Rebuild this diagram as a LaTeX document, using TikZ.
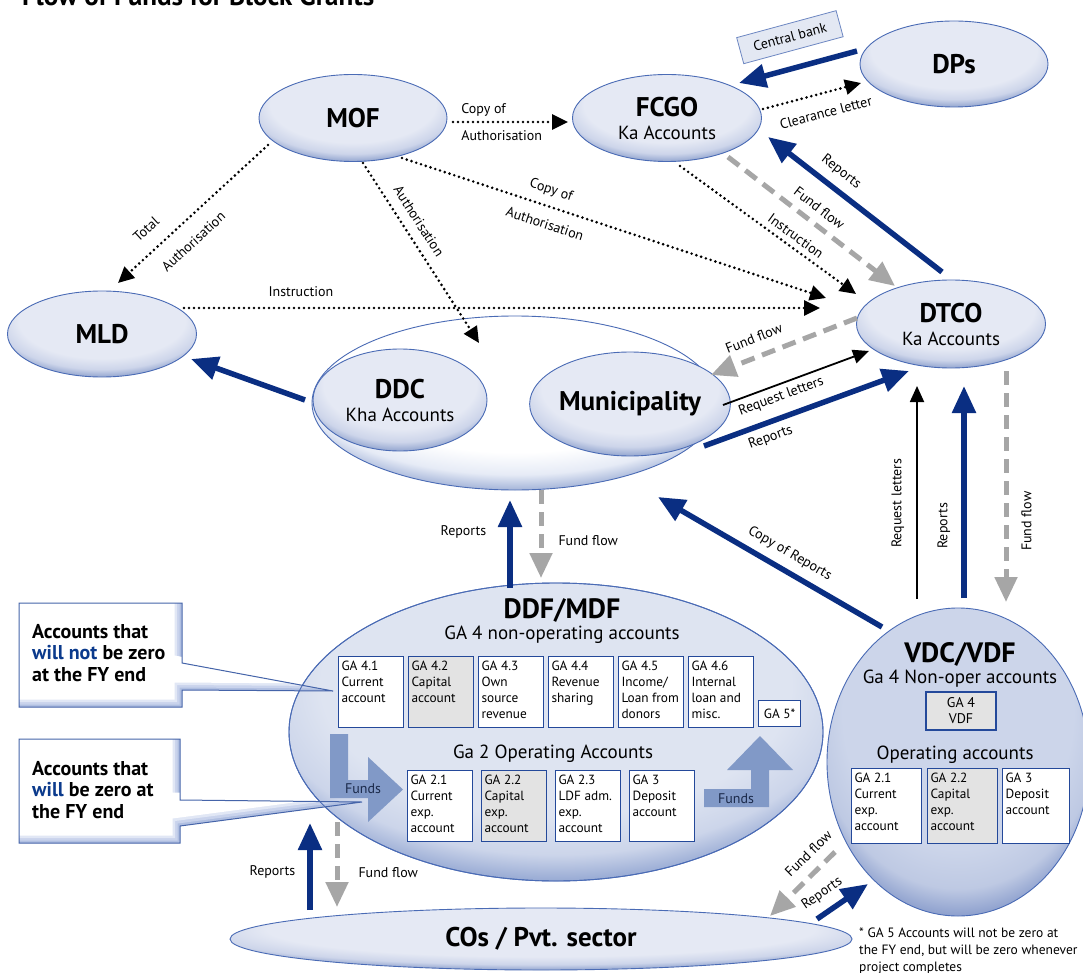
\documentclass[tikz,border=0pt]{standalone}
\usepackage{fontspec}
\setmainfont{PT Sans}
\usetikzlibrary{arrows.meta,calc,shapes.geometric}
\definecolor{navy}{HTML}{0A2E82}
\definecolor{agrey}{HTML}{A6A6A6}
\definecolor{eline}{HTML}{4A6BB5}
\definecolor{bline}{HTML}{24499A}
\definecolor{fundc}{HTML}{8199C7}
\definecolor{fundt}{HTML}{1B2A4A}
\definecolor{calblue}{HTML}{0B3A8C}
\definecolor{boxgrey}{HTML}{E3E3E3}
\definecolor{cbfill}{HTML}{E3E8F3}
\definecolor{cbline}{HTML}{6D87C2}
\definecolor{aIn}{HTML}{E5E9F4}
\definecolor{aMid}{HTML}{CDD5EA}
\definecolor{aOut}{HTML}{8A9ECB}
\definecolor{wIn}{HTML}{FFFFFF}
\definecolor{wMid}{HTML}{E6EBF6}
\definecolor{wOut}{HTML}{9AACD4}
\definecolor{dIn}{HTML}{DEE4F1}
\definecolor{dMid}{HTML}{CCD5EA}
\definecolor{dOut}{HTML}{8FA3D0}
\definecolor{vIn}{HTML}{CCD5EA}
\definecolor{vMid}{HTML}{BEC9E3}
\definecolor{vOut}{HTML}{8599CA}
\definecolor{cs1}{HTML}{B0BFE1}
\definecolor{cs2}{HTML}{C9D3EC}
\definecolor{cs3}{HTML}{E1E7F5}
\pgfdeclareradialshading{shA}{\pgfpoint{0bp}{14bp}}{color(0bp)=(aIn); color(22bp)=(aIn); color(27bp)=(aMid); color(31bp)=(aOut); color(50bp)=(aOut)}
\pgfdeclareradialshading{shW}{\pgfpoint{0bp}{14bp}}{color(0bp)=(wIn); color(22bp)=(wIn); color(27bp)=(wMid); color(31bp)=(wOut); color(50bp)=(wOut)}
\pgfdeclareradialshading{shD}{\pgfpoint{0bp}{14bp}}{color(0bp)=(dIn); color(22bp)=(dIn); color(27bp)=(dMid); color(31bp)=(dOut); color(50bp)=(dOut)}
\pgfdeclareradialshading{shV}{\pgfpoint{0bp}{14bp}}{color(0bp)=(vIn); color(22bp)=(vIn); color(27bp)=(vMid); color(31bp)=(vOut); color(50bp)=(vOut)}
\newcommand{\accbx}[3]{\parbox[c][#2][t]{#1}{\raggedright #3}}
\newcommand{\calloutA}{(19,603) -- (182,603) -- (182,663) -- (333,691) -- (182,690) -- (182,707) -- (19,707) -- cycle}
\newcommand{\calloutB}{(19,739) -- (180,739) -- (180,800) -- (362,802) -- (180,826) -- (180,843) -- (19,843) -- cycle}
\begin{document}
\begin{tikzpicture}[x=1pt,y=-1pt,
  font=\fontsize{14}{16}\selectfont,
  ell/.style={ellipse, draw=eline, line width=0.9pt, inner sep=0pt, align=center, shade},
  acc/.style={draw=bline, line width=1.1pt, fill=white, inner xsep=3pt, inner ysep=4pt, anchor=north west, font=\fontsize{13.3}{16}\selectfont},
  lbl/.style={inner sep=1pt, font=\fontsize{14}{16}\selectfont},
  navyarr/.style={draw=navy, line width=5.5pt, -{Triangle[length=27pt,width=23pt]}},
  greyarr/.style={draw=agrey, line width=5pt, dash pattern=on 14pt off 8pt, -{Triangle[length=25pt,width=22pt]}},
  dotarr/.style={draw=black, line width=2.9pt, line cap=round, dash pattern=on 0pt off 5pt, -{Triangle[length=16pt,width=15pt]}},
  blkarr/.style={draw=black, line width=1.8pt, -{Triangle[length=16pt,width=14pt]}},
  cbox/.style={draw=cbline, fill=cbfill, line width=0.8pt, minimum width=103pt, minimum height=27pt, inner sep=2pt},
  big/.style={font=\fontsize{27}{27}\bfseries},
  two/.style={font=\fontsize{19}{23}\selectfont}
]
\fill[white] (0,0) rectangle (1083,973);
\useasboundingbox (0,0) rectangle (1083,973);

\node[anchor=base west, font=\fontsize{27}{30}\bfseries, inner sep=0pt] (title) at (22,6) {Flow of Funds for Block Grants};

% ellipses
\node[ell, shading=shA, minimum width=188pt, minimum height=87pt, big] (MOF) at (353,118) {MOF};
\node[ell, shading=shA, minimum width=189pt, minimum height=87pt, two] (FCGO) at (667,118) {{\fontsize{27}{27}\bfseries FCGO}\\Ka Accounts};
\node[ell, shading=shA, minimum width=188pt, minimum height=86pt, big] (DPs) at (954,64) {DPs};
\node[ell, shading=shA, minimum width=189pt, minimum height=86pt, big] (MLD) at (102,334) {MLD};
\node[ell, shading=shA, minimum width=189pt, minimum height=88pt, two] (DTCO) at (951,324) {{\fontsize{27}{27}\bfseries DTCO}\\Ka Accounts};
\node[ell, shading=shW, minimum width=406pt, minimum height=174pt] (DDCgrp) at (515,403) {};
\node[ell, shading=shA, minimum width=174pt, minimum height=102pt, two] (DDC) at (400,400) {{\fontsize{27}{27}\bfseries DDC}\\Kha Accounts};
\node[ell, shading=shA, minimum width=174pt, minimum height=104pt, big] (MUN) at (630,404) {Municipality};
\node[ell, shading=shD, minimum width=534pt, minimum height=298pt] (DDF) at (556,732) {};
\node[ell, shading=shV, minimum width=262pt, minimum height=308pt] (VDC) at (958,762) {};
\node[ell, shading=shA, minimum width=622pt, minimum height=62pt, big] (COs) at (541,939) {COs / Pvt. sector};

% DDF contents
\node[anchor=base, font=\fontsize{28}{28}\bfseries, inner sep=0pt] (ddfT) at (562,618) {DDF/MDF};
\node[anchor=base, font=\fontsize{19}{23}\selectfont, inner sep=0pt] (ddfS) at (562,639) {GA 4 non-operating accounts};
\node[anchor=base, font=\fontsize{19}{23}\selectfont, inner sep=0pt] (ddfO) at (553,758) {Ga 2 Operating Accounts};
\node[acc] (g41) at (338,656) {\accbx{59pt}{63pt}{GA 4.1\\Current\\account}};
\node[acc, fill=boxgrey] (g42) at (408,656) {\accbx{59pt}{63pt}{GA 4.2\\Capital\\account}};
\node[acc] (g43) at (478,656) {\accbx{59pt}{63pt}{GA 4.3\\Own\\source\\revenue}};
\node[acc] (g44) at (548,656) {\accbx{59pt}{63pt}{GA 4.4\\Revenue\\sharing}};
\node[acc] (g45) at (618,656) {\accbx{59pt}{63pt}{GA 4.5\\Income/\\Loan from\\donors}};
\node[acc] (g46) at (688,656) {\accbx{59pt}{63pt}{GA 4.6\\Internal\\loan and\\misc.}};
\node[acc, anchor=south west, minimum height=26pt, minimum width=42pt] (g5) at (758,727) {GA 5*};
\node[acc] (g21) at (407,770) {\accbx{59pt}{63pt}{GA 2.1\\Current\\exp.\\account}};
\node[acc, fill=boxgrey] (g22) at (481,770) {\accbx{59pt}{63pt}{GA 2.2\\Capital\\exp.\\account}};
\node[acc] (g23) at (555,770) {\accbx{59pt}{63pt}{GA 2.3\\LDF adm.\\exp.\\account}};
\node[acc] (g3) at (629,770) {\accbx{59pt}{63pt}{GA 3\\Deposit\\account}};

% VDC contents
\node[anchor=base, font=\fontsize{28}{28}\bfseries, inner sep=0pt] (vdcT) at (960,662) {VDC/VDF};
\node[anchor=base, font=\fontsize{19}{23}\selectfont, inner sep=0pt] (vdcS) at (960,683) {Ga 4 Non-oper accounts};
\node[acc, anchor=center, fill=boxgrey, minimum width=70pt, minimum height=38pt, align=center, inner ysep=2pt, font=\fontsize{14}{16}\selectfont] (vg4) at (961,711) {GA 4\\VDF};
\node[anchor=base, font=\fontsize{19}{23}\selectfont, inner sep=0pt] (vdcO) at (955,759) {Operating accounts};
\node[acc] (vg21) at (851,768) {\accbx{64pt}{67pt}{GA 2.1\\Current\\exp.\\account}};
\node[acc, fill=boxgrey] (vg22) at (927,768) {\accbx{64pt}{67pt}{GA 2.2\\Capital\\exp.\\account}};
\node[acc] (vg3) at (1002,768) {\accbx{61pt}{67pt}{GA 3\\Deposit\\account}};

% callouts
\begin{scope}
  \clip \calloutA;
  \fill[cs1] \calloutA;
  \fill[cs2, shift={(-2.5,-2.5)}] \calloutA;
  \fill[cs3, shift={(-5,-5)}] \calloutA;
  \fill[white, shift={(-7.5,-7.5)}] \calloutA;
\end{scope}
\begin{scope}
  \clip \calloutB;
  \fill[cs1] \calloutB;
  \fill[cs2, shift={(-2.5,-2.5)}] \calloutB;
  \fill[cs3, shift={(-5,-5)}] \calloutB;
  \fill[white, shift={(-7.5,-7.5)}] \calloutB;
\end{scope}
\draw[eline, line width=0.9pt] (DDF.center) ellipse [x radius=267pt, y radius=149pt];

% funds arrows
\fill[fundc] (330,734) -- (348,734) -- (348,780) -- (368,780) -- (368,757) -- (403,789.5) -- (368,822) -- (368,798) -- (330,798) -- cycle;
\fill[fundc] (704,789) -- (751,789) -- (751,770) -- (727,770) -- (760,736) -- (793,770) -- (769,770) -- (769,807) -- (704,807) -- cycle;
\draw[bline!85, line width=1pt] \calloutA;
\draw[bline!85, line width=1pt] \calloutB;
\node[text=fundt] (fundsL) at (363,789) {Funds};
\node[text=fundt] (fundsR) at (736,799) {Funds};
\node[anchor=west, align=left, font=\fontsize{20}{21.5}\bfseries, inner sep=0pt] (c1t) at (32,653) {Accounts that\\\textcolor{calblue}{will not} be zero\\at the FY end};
\node[anchor=west, align=left, font=\fontsize{20}{21.5}\bfseries, inner sep=0pt] (c2t) at (32,790) {Accounts that\\\textcolor{calblue}{will} be zero at\\the FY end};

% footnote
\node[anchor=north west, align=left, font=\fontsize{13.5}{16.8}\selectfont, inner sep=0pt] (note) at (859,928) {* GA 5 Accounts will not be zero at\\the FY end, but will be zero whenever\\project completes};

% connectors
\draw[navyarr] ($(DPs)+(-97,-13)$) -- node[cbox, sloped, above=17pt]{Central bank} ($(FCGO)+(72,-35)$);
\draw[dotarr] ($(FCGO)+(96,-9)$) -- node[lbl, sloped, pos=0.59, below=12pt]{Clearance letter} ($(DPs)+(-93,19)$);
\draw[dotarr] ($(MOF)+(100,4)$) -- node[lbl, at start, anchor=south west, xshift=6pt, yshift=3pt]{Copy of} node[lbl, at start, anchor=north west, xshift=6pt, yshift=-6pt]{Authorisation} ($(FCGO)+(-99,4)$);
\draw[dotarr] ($(MOF)+(-85,27)$) -- node[lbl, sloped, pos=0.72, above=13pt]{Total} node[lbl, sloped, pos=0.59, below=13pt]{Authorisation} ($(MLD)+(16,-51)$);
\coordinate (authTip) at ($(DDCgrp)+(-36,-60)$);
\draw[dotarr] ($(MOF)+(10,45)$) -- node[lbl, sloped, pos=0.37, above=8pt]{Authorisation} (authTip);
\draw[dotarr] ($(MOF)+(49,40)$) -- node[lbl, sloped, pos=0.34, above=7pt]{Copy of} node[lbl, sloped, pos=0.35, below=10pt]{Authorisation} ($(DTCO)+(-125,-26)$);
\draw[dotarr] ($(FCGO)+(13,48)$) -- node[lbl, sloped, pos=0.62, above=4pt]{Instruction} ($(DTCO)+(-95,-30)$);
\draw[greyarr] ($(FCGO)+(61,39)$) -- node[lbl, sloped, pos=0.49, above=7pt]{Fund flow} ($(DTCO)+(-56,-38)$);
\draw[navyarr] ($(DTCO)+(-9,-52)$) -- node[lbl, sloped, pos=0.64, above=7pt]{Reports} ($(FCGO)+(101,19)$);
\draw[dotarr, shorten >=36pt] ($(MLD)+(82,-26)$) -- node[lbl, pos=0.174, above=9pt]{Instruction} ($(DTCO.west)+(0,-16)$);
\draw[greyarr] ($(DTCO)+(-94,-6)$) -- node[lbl, sloped, pos=0.66, above=10pt]{Fund flow} ($(MUN)+(81,-29)$);
\draw[blkarr] ($(MUN)+(93,1)$) -- node[lbl, sloped, pos=0.37, below=4pt]{Request letters} ($(DTCO)+(-82,27)$);
\draw[navyarr] ($(MUN)+(74,42)$) -- node[lbl, sloped, pos=0.3, below=5pt]{Reports} ($(DTCO)+(-42,47)$);
\draw[navyarr] ($(DDCgrp)+(-210,-3)$) -- ($(MLD)+(89,25)$);
\draw[blkarr] ($(VDC)+(-41,-163)$) -- node[lbl, rotate=90, pos=0.45, above=11pt]{Request letters} ($(DTCO)+(-34,62)$);
\draw[navyarr] ($(VDC)+(6,-164)$) -- node[lbl, rotate=90, pos=0.34, above=10pt]{Reports} ($(DTCO)+(13,62)$);
\draw[greyarr] ($(DTCO)+(55,47)$) -- node[lbl, rotate=90, pos=0.65, below=12pt]{Fund flow} ($(VDC)+(48,-160)$);
\draw[navyarr] ($(VDC)+(-76,-135)$) -- node[lbl, sloped, pos=0.45, above=7pt]{Copy of Reports} ($(DDCgrp)+(143,94)$);
\draw[navyarr] ($(DDF)+(-46,-144)$) -- node[lbl, pos=0.64, left=20pt]{Reports} ($(DDCgrp)+(-5,97)$);
\draw[greyarr] ($(DDCgrp)+(26,87)$) -- node[lbl, pos=0.58, right=14pt]{Fund flow} ($(DDF)+(-15,-154)$);
\draw[navyarr] ($(COs)+(-231,-29)$) -- node[lbl, pos=0.44, left=11pt]{Reports} ($(DDF)+(-246,91)$);
\draw[greyarr] ($(DDF)+(-219,90)$) -- node[lbl, pos=0.59, right=18pt]{Fund flow} ($(COs)+(-204,-32)$);
\draw[greyarr] ($(VDC)+(-123,90)$) -- node[lbl, sloped, pos=0.22, above=9pt]{Fund flow} ($(COs)+(229,-23)$);
\draw[navyarr] ($(COs)+(276,-20)$) -- node[lbl, sloped, pos=0.3, above=8pt]{Reports} ($(VDC)+(-90,122)$);
\end{tikzpicture}
\end{document}
